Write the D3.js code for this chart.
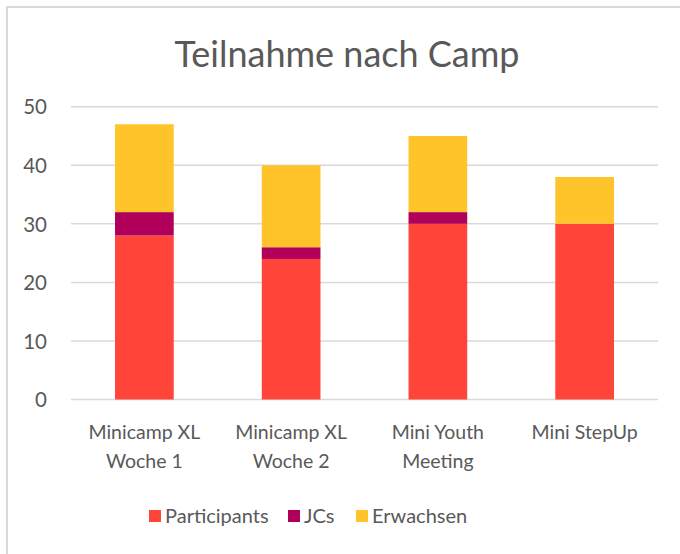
<!DOCTYPE html>
<html><head><meta charset="utf-8">
<script src="https://cdn.jsdelivr.net/npm/d3@7"></script>
<style>body{margin:0;background:#fff;} text{font-family:Lato, "Noto Sans", sans-serif; fill:#595959;}</style>
</head><body>
<svg id="chart" width="680" height="554"></svg>
<script>
const categories = [["Minicamp XL","Woche 1"],["Minicamp XL","Woche 2"],["Mini Youth","Meeting"],["Mini StepUp"]];
const seriesNames = ["Participants","JCs","Erwachsen"];
const participants = [28,24,30,30];
const jcs = [4,2,2,0];
const erwachsen = [15,14,13,8];
const colors = ["#FF4539","#B0005A","#FEC42A"];
const yTicks = [0,10,20,30,40,50];

const svg = d3.select("#chart");
svg.append("rect").attr("x",0).attr("y",0).attr("width",680).attr("height",554).attr("fill","#fff");
svg.append("rect").attr("x",7).attr("y",7).attr("width",720).attr("height",620)
  .attr("fill","none").attr("stroke","#d9d9d9").attr("stroke-width",2);

const keys = categories.map(c=>c.join(" "));
const data = keys.map((k,i)=>({cat:k, Participants:participants[i], JCs:jcs[i], Erwachsen:erwachsen[i]}));

const x = d3.scaleBand().domain(keys).range([71,658]).paddingInner(0.6).paddingOuter(0.3);
const y = d3.scaleLinear().domain([0,50]).range([399.5,106.7]);

// gridlines
svg.append("g").selectAll("line").data(yTicks).join("line")
  .attr("x1",71).attr("x2",658).attr("y1",d=>y(d)).attr("y2",d=>y(d))
  .attr("stroke","#d9d9d9").attr("stroke-width",1.5);

// y axis labels
const yAxis = d3.axisLeft(y).tickValues(yTicks).tickSize(0).tickPadding(0);
const yg = svg.append("g").attr("transform","translate(47,0)").call(yAxis);
yg.select(".domain").remove();
yg.selectAll("text").attr("font-size",20.5).style("font-family","Lato").attr("fill","#595959").attr("dy","0.35em");

// bars
const stack = d3.stack().keys(seriesNames)(data);
svg.append("g").selectAll("g").data(stack).join("g")
  .attr("fill",(d,i)=>colors[i])
  .selectAll("rect").data(d=>d).join("rect")
  .attr("x",d=>x(d.data.cat)).attr("width",x.bandwidth())
  .attr("y",d=>y(d[1])).attr("height",d=>y(d[0])-y(d[1]));

// x labels
const xl = svg.append("g").selectAll("text").data(categories).join("text")
  .attr("x",(d,i)=>x(keys[i])+x.bandwidth()/2).attr("y",438.5)
  .attr("text-anchor","middle").attr("font-size",19.5);
xl.selectAll("tspan").data(d=>d).join("tspan")
  .attr("x",function(){return this.parentNode.getAttribute("x");})
  .attr("dy",(d,i)=>i===0?0:29).text(d=>d);

// title
svg.append("text").attr("x",347).attr("y",67).attr("text-anchor","middle")
  .attr("font-size",36).text("Teilnahme nach Camp");

// legend
const legX = [149,288,356];
const lg = svg.append("g").selectAll("g").data(seriesNames).join("g")
  .attr("transform",(d,i)=>`translate(${legX[i]},510)`);
lg.append("rect").attr("width",12).attr("height",12).attr("fill",(d,i)=>colors[i]);
lg.append("text").attr("x",16).attr("y",12.5).attr("font-size",20).text(d=>d);
</script>
</body></html>
